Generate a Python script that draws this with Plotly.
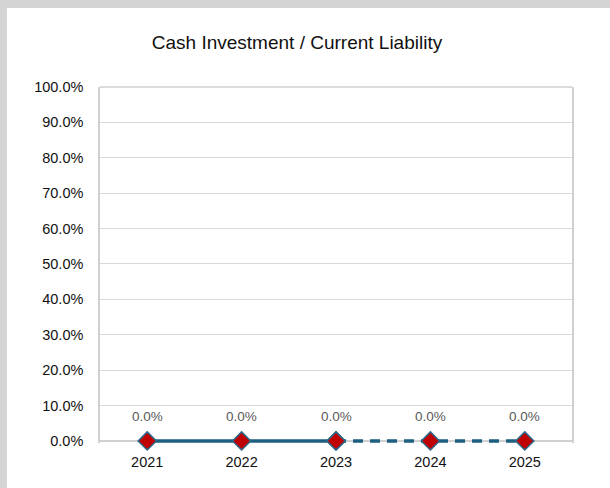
import plotly.graph_objects as go

years = ["2021", "2022", "2023", "2024", "2025"]
ratio = [0.0, 0.0, 0.0, 0.0, 0.0]
actual_years = years[:3]
actual_vals = ratio[:3]
forecast_years = years[2:]
forecast_vals = ratio[2:]
y_ticks = [0.0, 0.1, 0.2, 0.3, 0.4, 0.5, 0.6, 0.7, 0.8, 0.9, 1.0]

W, H = 610, 488
L, R, T, B = 100, 572, 87, 443

line_color = "#1d5f80"
marker = dict(symbol="diamond", size=14, color="#c00000",
              line=dict(color="#2a6a8a", width=1.5))

fig = go.Figure()
fig.add_trace(go.Scatter(
    x=actual_years, y=actual_vals, mode="lines+markers",
    line=dict(color=line_color, width=3.5), marker=marker,
    cliponaxis=False, showlegend=False, hoverinfo="skip"))
fig.add_trace(go.Scatter(
    x=forecast_years, y=forecast_vals, mode="lines+markers",
    line=dict(color=line_color, width=3.5, dash="10px,7px"), marker=marker,
    cliponaxis=False, showlegend=False, hoverinfo="skip"))

annotations = [
    dict(x=i, y=v, xref="x", yref="y", text=f"{v*100:.1f}%",
         showarrow=False, yshift=24,
         font=dict(family="Liberation Sans, Arial", size=13.5, color="#595959"))
    for i, v in enumerate(ratio)
]

fig.update_layout(
    width=W, height=H,
    margin=dict(l=L, r=W - R, t=T, b=H - B, pad=0),
    paper_bgcolor="#d4d4d4",
    plot_bgcolor="white",
    title=dict(text="Cash Investment / Current Liability",
               x=297 / W, xref="container", xanchor="center",
               y=1 - 42 / H, yref="container", yanchor="middle",
               font=dict(family="Liberation Sans Narrow, Arial Narrow, sans-serif",
                         size=19, color="#111111")),
    xaxis=dict(type="category", range=[-0.5, 4.5], showgrid=False,
               showline=False, ticks="", ticklen=0, layer="below traces",
               tickfont=dict(family="Liberation Sans, Arial", size=14.5, color="#111111"),
               fixedrange=True),
    yaxis=dict(range=[-0.0058, 1], tickvals=y_ticks, tickformat=".1%",
               showgrid=True, gridcolor="#d9d9d9", gridwidth=1,
               showline=True, mirror=True, linecolor="#d0d0d0", linewidth=1.5,
               zeroline=True, zerolinecolor="#d0d0d0", zerolinewidth=1.5,
               ticks="", ticklen=0, layer="below traces",
               tickfont=dict(family="Liberation Sans, Arial", size=14.5, color="#111111"),
               fixedrange=True),
    annotations=annotations,
    shapes=[
        dict(type="rect", xref="paper", yref="paper", layer="below",
             x0=(7 - L) / (R - L), x1=(W + 5 - L) / (R - L),
             y0=(B - (H + 5)) / (B - T), y1=(B - 8) / (B - T),
             fillcolor="white", line=dict(width=0)),
        dict(type="line", xref="paper", yref="paper", layer="below",
             x0=0, x1=1, y0=1, y1=1, line=dict(color="#d0d0d0", width=1.5)),
    ],
)
fig.update_yaxes(ticklabelstandoff=12)
fig.update_xaxes(ticklabelstandoff=8)

fig.write_html("out.html", config={"displayModeBar": False},
               post_script="document.body.style.margin='0';document.body.style.background='#d4d4d4';")
